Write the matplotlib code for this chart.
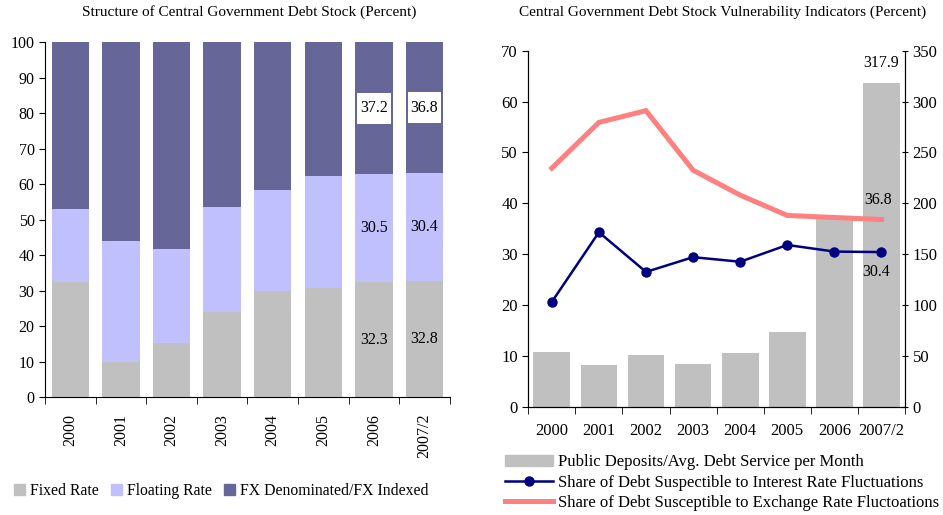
import matplotlib
matplotlib.use("Agg")
import matplotlib.pyplot as plt
import numpy as np
from matplotlib.patches import Patch, Rectangle
from matplotlib.lines import Line2D

plt.rcParams['font.family'] = ['Liberation Serif', 'DejaVu Serif']
plt.rcParams['font.size'] = 11

years = ["2000", "2001", "2002", "2003", "2004", "2005", "2006", "2007/2"]

# Debt stock structure (percent of total)
floating_rate = [20.6, 34.3, 26.5, 29.4, 28.5, 31.8, 30.5, 30.4]
fx_indexed = [46.9, 55.9, 58.2, 46.5, 41.6, 37.6, 37.2, 36.8]
fixed_rate = [round(100 - f - x, 1) for f, x in zip(floating_rate, fx_indexed)]

# Vulnerability indicators
deposits_ratio = [53.8, 41.0, 50.8, 42.0, 52.8, 73.4, 185.5, 317.9]
interest_share = floating_rate
exchange_share = fx_indexed

c_fixed = "#C0C0C0"
c_float = "#C0C0FF"
c_fx = "#666699"
c_navy = "#000080"
c_pink = "#FF8080"

fig = plt.figure(figsize=(9.43, 5.15), dpi=100)

# ---------------- left panel ----------------
ax = fig.add_axes([0.0477, 0.229, 0.4293, 0.689])
x = np.arange(len(years))
w = 0.74
fixed = np.array(fixed_rate)
flt = np.array(floating_rate)
fx = np.array(fx_indexed)
ax.bar(x, fixed, w, color=c_fixed)
ax.bar(x, flt, w, bottom=fixed, color=c_float)
ax.bar(x, fx, w, bottom=fixed + flt, color=c_fx)

ax.set_xlim(-0.5, len(years) - 0.5)
ax.set_ylim(0, 100)
ax.set_yticks(np.arange(0, 101, 10))
ax.set_xticks(x)
ax.set_xticklabels(years, rotation=90, va="top")
ax.set_xticks(np.arange(-0.5, len(years), 1), minor=True)
ax.tick_params(axis="x", which="major", length=0, pad=12, labelsize=11.5)
ax.tick_params(axis="x", which="minor", length=5, direction="out")
ax.tick_params(axis="y", length=4, direction="out", labelsize=11.5)
for s in ("top", "right"):
    ax.spines[s].set_visible(False)

for i in (6, 7):
    ax.text(x[i], fixed[i] / 2, f"{fixed[i]:.1f}", ha="center", va="center", fontsize=11.5)
    ax.text(x[i], fixed[i] + flt[i] / 2, f"{flt[i]:.1f}", ha="center", va="center", fontsize=11.5)
    yc = fixed[i] + flt[i] + fx[i] / 2
    ax.add_patch(Rectangle((x[i] - 0.33, yc - 4.35), 0.66, 8.7,
                           facecolor="white", edgecolor="none", zorder=3))
    ax.text(x[i], yc, f"{fx[i]:.1f}", ha="center", va="center", zorder=4, fontsize=11.5)

fig.text(0.2645, 0.977, "Structure of Central Government Debt Stock (Percent)",
         ha="center", va="center")

fig.legend(handles=[Patch(color=c_fixed, label="Fixed Rate"),
                    Patch(color=c_float, label="Floating Rate"),
                    Patch(color=c_fx, label="FX Denominated/FX Indexed")],
           loc="center left", bbox_to_anchor=(0.008, 0.047), ncol=3, frameon=False,
           handlelength=0.7, handleheight=0.7, handletextpad=0.35, columnspacing=0.75,
           borderaxespad=0, fontsize=11.3)

# ---------------- right panel ----------------
axl = fig.add_axes([0.5602, 0.2103, 0.3995, 0.6913])
axr = axl.twinx()
wr = 0.78
axr.bar(x, deposits_ratio, wr, color=c_fixed)
axr.set_ylim(0, 350)
axr.set_yticks(np.arange(0, 351, 50))
axr.tick_params(axis="y", length=4, direction="inout", labelsize=12)

axl.plot(x, exchange_share, color=c_pink, lw=3.6, solid_joinstyle="miter")
axl.plot(x, interest_share, color=c_navy, lw=1.8, marker="o", ms=6.5)
axl.set_ylim(0, 70)
axl.set_yticks(np.arange(0, 71, 10))
axl.set_xlim(-0.5, len(years) - 0.5)
axl.set_xticks(x)
axl.set_xticklabels(years)
axl.set_xticks(np.arange(-0.5, len(years), 1), minor=True)
axl.tick_params(axis="x", which="major", length=0, pad=12, labelsize=12)
axl.tick_params(axis="x", which="minor", length=5, direction="out")
axl.tick_params(axis="y", length=4, direction="out", labelsize=12)
axl.set_zorder(axr.get_zorder() + 1)
axl.patch.set_visible(False)
for a in (axl, axr):
    a.spines["top"].set_visible(False)

axr.text(x[7], deposits_ratio[7] + 12, f"{deposits_ratio[7]:.1f}", ha="center", va="bottom",
         fontsize=11.5)
axl.text(x[7] - 0.07, exchange_share[7] + 2.3, f"{exchange_share[7]:.1f}", ha="center",
         va="bottom", fontsize=11.5)
axl.text(x[7] - 0.12, interest_share[7] - 2.3, f"{interest_share[7]:.1f}", ha="center",
         va="top", fontsize=11.5)

fig.text(0.766, 0.977, "Central Government Debt Stock Vulnerability Indicators (Percent)",
         ha="center", va="center")

fig.legend(handles=[Patch(color=c_fixed, label="Public Deposits/Avg. Debt Service per Month"),
                    Line2D([], [], color=c_navy, lw=1.8, marker="o", ms=6.5,
                           label="Share of Debt Suspectible to Interest Rate Fluctuations"),
                    Line2D([], [], color=c_pink, lw=3.6,
                           label="Share of Debt Susceptible to Exchange Rate Fluctoations")],
           loc="upper left", bbox_to_anchor=(0.5355, 0.118), frameon=False,
           handlelength=2.9, handleheight=0.65, handletextpad=0.3, labelspacing=0.26,
           borderaxespad=0, borderpad=0, fontsize=12)

fig.savefig("out.png", dpi=100)
